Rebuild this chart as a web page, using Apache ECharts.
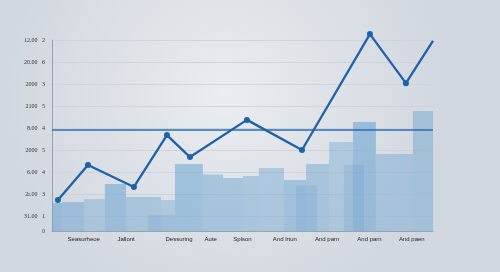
<!DOCTYPE html>
<html>
<head>
<meta charset="utf-8">
<script src="https://cdn.jsdelivr.net/npm/echarts@6/dist/echarts.min.js"></script>
<style>
  html, body { margin: 0; padding: 0; }
  #main { width: 500px; height: 272px; }
</style>
</head>
<body>
<div id="main"></div>
<script>
// x is measured in bar slots (0..18), y in gridline steps
const categories = ['Seasurheoe', 'Jallont', 'Dessuring', 'Aute', 'Splson', 'And lrtun', 'And parn', 'And parn', 'And paen'];
const categoryAt = [1.5, 3.5, 6, 7.5, 9, 11, 13, 15, 17];
const yTickLabels = ['31.00   1', '2r.00   3', '6.00   4', '2000   5', '8.00   4', '2100   5', '2000   3', '20.00   6', '12.00   2'];

const barStart = [0, 0.47, 1.51, 2.50, 3.50, 5.15, 5.81, 7.13, 8.08, 9.02, 9.78, 10.96, 12.0, 13.09, 14.22, 15.30, 17.05];
const barEnd   = [0.47, 1.51, 2.50, 3.50, 5.15, 5.81, 7.13, 8.08, 9.02, 9.78, 10.96, 12.0, 13.09, 14.22, 15.30, 17.05, 18];
const barValue = [1.27, 1.32, 1.45, 2.14, 1.55, 1.41, 3.05, 2.57, 2.41, 2.5, 2.86, 2.32, 3.05, 4.05, 4.95, 3.5, 5.45];
const barShade = [0.6, 0.54, 0.42, 0.58, 0.46, 0.4, 0.56, 0.5, 0.5, 0.46, 0.44, 0.54, 0.48, 0.4, 0.6, 0.44, 0.48];

const overlayStart = [4.53, 11.53, 13.79];
const overlayEnd   = [5.81, 12.52, 14.74];
const overlayValue = [0.73, 2.07, 3.0];

const lineX = [0.28, 1.70, 3.87, 5.43, 6.52, 9.21, 11.81, 15.02, 16.72, 18.0];
const lineY = [1.41, 3.0, 2.0, 4.36, 3.36, 5.05, 3.68, 8.95, 6.72, 8.64];
const refLevel = 4.59;

const chart = echarts.init(document.getElementById('main'));

function rectItem(fill) {
  return function (params, api) {
    const top = api.coord([api.value(0), api.value(2)]);
    const bottom = api.coord([api.value(1), 0]);
    return {
      type: 'rect',
      shape: { x: top[0], y: top[1], width: bottom[0] - top[0], height: bottom[1] - top[1] },
      style: { fill: fill(params.dataIndex) }
    };
  };
}

const bars = barStart.map((s, i) => [s, barEnd[i], barValue[i]]);
const overlays = overlayStart.map((s, i) => [s, overlayEnd[i], overlayValue[i]]);
const linePts = lineX.map((x, i) => ({
  value: [x, lineY[i]],
  symbolSize: i === lineX.length - 1 ? 0 : 6
}));

const option = {
  backgroundColor: {
    type: 'radial', x: 0.45, y: 0.35, r: 0.8,
    colorStops: [
      { offset: 0, color: '#eaedf1' },
      { offset: 1, color: '#d2d8df' }
    ]
  },
  animation: false,
  grid: [
    { left: 52, right: 67, top: 40, bottom: 41 },
    { left: 52, right: 67, top: 40, bottom: 56 }
  ],
  xAxis: [{
    type: 'value',
    gridIndex: 0,
    min: 0,
    max: 18,
    interval: 0.5,
    axisLine: { show: true, lineStyle: { color: '#9aa3ad', width: 1 } },
    axisTick: { show: false },
    splitLine: { show: false },
    axisLabel: {
      fontSize: 6,
      color: '#222',
      fontFamily: 'Liberation Sans',
      margin: 5,
      formatter: function (v) {
        const k = categoryAt.indexOf(v);
        return k >= 0 ? categories[k] : '';
      }
    }
  }, {
    type: 'value',
    gridIndex: 1,
    show: false
  }],
  yAxis: [{
    type: 'value',
    gridIndex: 0,
    min: 0,
    max: 8.68,
    axisLine: { show: true, lineStyle: { color: '#9aa3ad', width: 1 } },
    axisTick: { show: false },
    splitLine: { show: false },
    axisLabel: {
      fontSize: 6,
      color: '#333',
      fontFamily: 'Liberation Serif',
      margin: 7,
      formatter: v => (v === 0 ? '0' : '')
    }
  }, {
    type: 'category',
    gridIndex: 1,
    boundaryGap: false,
    data: yTickLabels,
    axisLine: { show: false },
    axisTick: { show: false },
    splitLine: { show: true, lineStyle: { color: '#cdd4dc', width: 1 } },
    axisLabel: { fontSize: 6, color: '#333', fontFamily: 'Liberation Serif', margin: 7 }
  }],
  series: [{
    type: 'custom',
    xAxisIndex: 0,
    yAxisIndex: 0,
    renderItem: rectItem(i => 'rgba(110,165,210,' + barShade[i] + ')'),
    encode: { x: [0, 1], y: 2 },
    data: bars,
    z: 2
  }, {
    type: 'custom',
    xAxisIndex: 0,
    yAxisIndex: 0,
    renderItem: rectItem(() => 'rgba(100,155,205,0.22)'),
    encode: { x: [0, 1], y: 2 },
    data: overlays,
    z: 3
  }, {
    type: 'line',
    xAxisIndex: 0,
    yAxisIndex: 0,
    data: linePts,
    clip: false,
    symbol: 'circle',
    itemStyle: { color: '#1d62ab' },
    lineStyle: { color: '#1d62ab', width: 2.3 },
    markLine: {
      silent: true,
      symbol: 'none',
      label: { show: false },
      lineStyle: { color: '#2b6cb3', width: 1.5, type: 'solid' },
      data: [{ yAxis: refLevel }]
    },
    z: 5
  }]
};

chart.setOption(option);
</script>
</body>
</html>
